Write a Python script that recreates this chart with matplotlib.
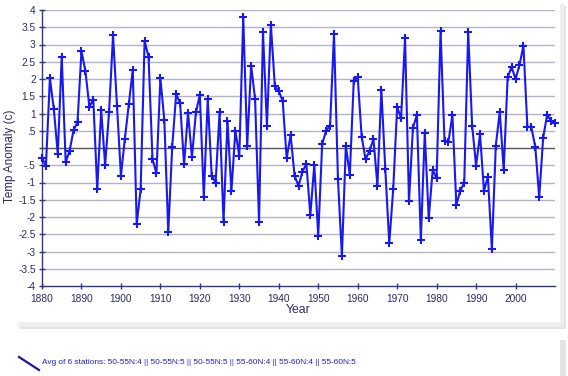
import matplotlib
matplotlib.use("Agg")
import matplotlib.pyplot as plt
from matplotlib.patches import Rectangle

# yearly anomaly values
years = list(range(1880, 2011))
anomaly = [
    -0.28, -0.52, 2.02, 1.12, -0.17, 2.65, -0.41, -0.08, 0.52, 0.75,   # 1880s
    2.81, 2.23, 1.2, 1.4, -1.2, 1.1, -0.5, 1.05, 3.27, 1.22,           # 1890s
    -0.8, 0.27, 1.27, 2.27, -2.2, -1.2, 3.1, 2.65, -0.32, -0.73,       # 1900s
    2.02, 0.81, -2.43, 0.04, 1.56, 1.29, -0.47, 1.02, -0.27, 1.03,     # 1910s
    1.54, -1.41, 1.42, -0.8, -1.0, 1.03, -2.14, 0.79, -1.25, 0.5,      # 1920s
    -0.23, 3.79, 0.07, 2.39, 1.42, -2.14, 3.37, 0.65, 3.57, 1.8,       # 1930s
    1.65, 1.36, -0.3, 0.38, -0.8, -1.1, -0.69, -0.46, -1.94, -0.49,    # 1940s
    -2.54, 0.12, 0.5, 0.65, 3.3, -0.91, -3.13, 0.06, -0.78, 1.94,      # 1950s
    2.07, 0.33, -0.33, -0.08, 0.26, -1.09, 1.68, -0.62, -2.76, -1.2,   # 1960s
    1.18, 0.86, 3.18, -1.55, 0.59, 0.96, -2.67, 0.44, -2.04, -0.64,    # 1970s
    -0.88, 3.39, 0.21, 0.18, 0.96, -1.65, -1.24, -1.0, 3.37, 0.65,     # 1980s
    -0.51, 0.4, -1.24, -0.83, -2.94, 0.07, 1.05, -0.64, 2.05, 2.35,    # 1990s
    2.0, 2.4, 2.97, 0.62, 0.6, 0.04, -1.43, 0.3, 0.96, 0.79, 0.72,     # 2000s
]
x_ticks = list(range(1880, 2001, 10))
y_ticks = [4, 3.5, 3, 2.5, 2, 1.5, 1, 0.5, 0, -0.5, -1, -1.5, -2, -2.5, -3, -3.5, -4]
y_tick_labels = ["4", "3.5", "3", "2.5", "2", "1.5", "1", ".5", "", "-.5", "-1",
                 "-1.5", "-2", "-2.5", "-3", "-3.5", "-4"]
legend_text = ("Avg of 6 stations: 50-55N:4 || 50-55N:5 || 50-55N:5 || "
               "55-60N:4 || 55-60N:4 || 55-60N:5")

plt.rcParams['font.family'] = ['Liberation Sans', 'DejaVu Sans']

W, H = 568, 376
fig = plt.figure(figsize=(W / 100, H / 100), dpi=100, facecolor="white")

def px_rect(x0, y0, x1, y1, color):
    # rectangle given in pixel coords, y measured from top
    fig.patches.append(Rectangle((x0 / W, 1 - y1 / H), (x1 - x0) / W, (y1 - y0) / H,
                                 transform=fig.transFigure, facecolor=color,
                                 edgecolor="none", zorder=-5))

# panel shadows and panels
px_rect(20, 6, 566, 329, "#e4e4e4")
px_rect(18, 4, 564, 327, "#efefef")
px_rect(0, 0, 560, 322, "white")
px_rect(20, 340, 566, 376, "#e4e4e4")
px_rect(0, 336, 560, 376, "white")

navy = "#33338a"
ax = fig.add_axes([42 / W, 1 - 286 / H, 513 / W, 276 / H])
ax.set_zorder(2)
ax.set_facecolor("none")

ax.plot(years, anomaly, color="#1818f0", linewidth=1.5, marker="+",
        markersize=5.5, markeredgewidth=1.5, zorder=3, clip_on=False)

ax.set_xlim(1880, 2010)
ax.set_ylim(-4, 4)
ax.set_xticks(x_ticks)
ax.set_yticks(y_ticks)
ax.set_yticklabels(y_tick_labels)
for y in y_ticks:
    if y == 0:
        ax.axhline(0, color="#555555", linewidth=1.0, zorder=2)
    elif y != -4:
        ax.axhline(y, color="#b4b4c8", linewidth=1.0, zorder=1)

for side in ["top", "right"]:
    ax.spines[side].set_visible(False)
for side in ["left", "bottom"]:
    ax.spines[side].set_color(navy)
    ax.spines[side].set_linewidth(1.0)
ax.tick_params(axis="both", direction="inout", length=5, width=1.0,
               color=navy, labelcolor="#2a2a66", labelsize=7.3, pad=2)
ax.tick_params(axis="x", pad=3)

ax.set_xlabel("Year", fontsize=8.8, color="#2a2a66", labelpad=0)
ax.set_ylabel("Temp Anomaly (c)", fontsize=8.4, color="#2a2a66")
ax.yaxis.set_label_coords(-0.05, 0.47)

# legend row in the lower panel
fig.add_artist(plt.Line2D([19 / W, 39 / W], [1 - 357 / H, 1 - 370 / H],
                          transform=fig.transFigure, color="#1818a0", linewidth=1.6))
fig.text(42 / W, 1 - 363 / H, legend_text, fontsize=5.95, color="#2020c0",
         va="center", ha="left")

fig.savefig("out.png", dpi=100, facecolor="white")
